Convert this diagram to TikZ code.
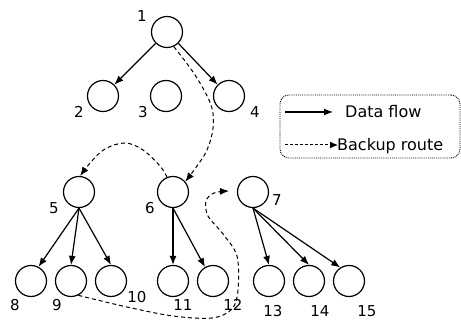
\documentclass[tikz,border=0pt]{standalone}
\usepackage{fontspec}
\setmainfont{DejaVu Sans}
\usetikzlibrary{arrows.meta}
\begin{document}
\begin{tikzpicture}[x=1pt,y=-1pt,
  nd/.style={circle,draw,line width=1.2pt,minimum size=31pt,inner sep=0pt},
  lbl/.style={font=\fontsize{15}{18}\selectfont,inner sep=0pt},
  legtxt/.style={font=\fontsize{16}{19}\selectfont,inner sep=0pt,anchor=base west},
  flow/.style={line width=1.2pt,-{Latex[length=9pt,width=7pt]}},
  backup/.style={line width=1pt,dash pattern=on 4pt off 3pt,-{Latex[length=9pt,width=7pt]}}]
\useasboundingbox (0,0) rectangle (461,320);
% nodes
\node[nd] (n1) at (167,32) {};
\node[nd] (n2) at (103,96) {};
\node[nd] (n3) at (166,96) {};
\node[nd] (n4) at (229,96) {};
\node[nd] (n5) at (79,192) {};
\node[nd] (n6) at (173,192) {};
\node[nd] (n7) at (253,192) {};
\node[nd] (n8) at (31,281) {};
\node[nd] (n9) at (71,281) {};
\node[nd] (n10) at (111,281) {};
\node[nd] (n11) at (173,281) {};
\node[nd] (n12) at (213,281) {};
\node[nd] (n13) at (269,281) {};
\node[nd] (n14) at (309,281) {};
\node[nd] (n15) at (349,281) {};
% labels
\node[lbl] (l1) at (142,16) {1};
\node[lbl] (l2) at (79,112) {2};
\node[lbl] (l3) at (143,112) {3};
\node[lbl] (l4) at (255,112) {4};
\node[lbl] (l5) at (54,208) {5};
\node[lbl] (l6) at (150,208) {6};
\node[lbl] (l7) at (277,200) {7};
\node[lbl] (l8) at (15,305) {8};
\node[lbl] (l9) at (57,305) {9};
\node[lbl] (l10) at (137,297) {10};
\node[lbl] (l11) at (183,305) {11};
\node[lbl] (l12) at (233,305) {12};
\node[lbl] (l13) at (273,311) {13};
\node[lbl] (l14) at (320,311) {14};
\node[lbl] (l15) at (367,311) {15};
% data flow
\draw[flow] (n1.225) -- (n2.45);
\draw[flow] (n1.-45) -- (n4.135);
\draw[flow] (n5.south) -- (n8.62);
\draw[flow] (n5.south) -- (n9.north);
\draw[flow] (n5.south) -- (n10.north);
\draw[flow] (n6.south) -- (n11.north);
\draw[flow] (n6.south) -- (n12.120);
\draw[flow] (n7.south) -- (n13.north);
\draw[flow] (n7.south) -- (n14.north);
\draw[flow] (n7.south) -- (n15.123);
% backup routes
\draw[backup] plot[smooth,tension=0.6] coordinates {(n1.-65) (195,75) (211,105) (213,128) (207,150) (197,166) (n6.40)};
\draw[backup] plot[smooth,tension=0.6] coordinates {(n6.112) (160,166) (143,150) (125,143) (105,149) (91,162) (n5.86)};
\coordinate (c7) at (229,191);
\draw[backup] plot[smooth,tension=0.55] coordinates {(n9.-63) (127,307) (173,316) (212,318) (232,309) (238,290) (237,256) (223,234) (208,216) (206,201) (214,193) (c7)};
% legend
\node[draw,densely dotted,line width=0.9pt,rounded corners=9pt,minimum width=180pt,minimum height=63pt,inner sep=0pt] (leg) at (370,126.5) {};
\coordinate (a1) at (285,112);
\coordinate (a2) at (333,112);
\coordinate (b1) at (285,145);
\coordinate (b2) at (338,145);
\draw[flow] (a1) -- (a2);
\draw[line width=1pt,dash pattern=on 3pt off 2pt,-{Latex[length=8pt,width=7pt]}] (b1) -- (b2);
\node[legtxt] (t1) at (345,118) {Data flow};
\node[legtxt] (t2) at (337,151) {Backup route};
\end{tikzpicture}
\end{document}
